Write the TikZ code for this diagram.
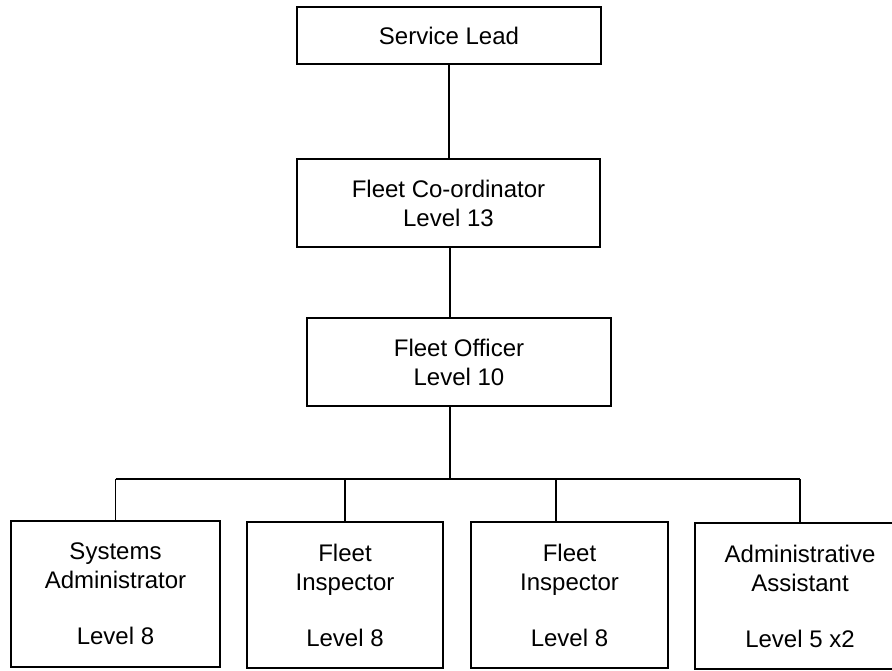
\documentclass[tikz,border=0pt]{standalone}
\usepackage{fontspec}
\setmainfont{Liberation Sans}
\begin{document}
\begin{tikzpicture}[x=1pt,y=-1pt,
  box/.style={draw=black,line width=1.8pt,rectangle,inner sep=0pt,align=center,
    font=\fontsize{24}{29}\selectfont,text=black},
  link/.style={draw=black,line width=1.8pt}]
\clip (0,0) rectangle (892,670);
\fill[white] (0,0) rectangle (892,670);
\node[box,minimum width=304pt,minimum height=57pt] (sl) at (449,35.5) {Service Lead};
\node[box,minimum width=303pt,minimum height=88pt] (fc) at (448.5,203) {Fleet Co-ordinator\\Level 13};
\node[box,minimum width=304pt,minimum height=88pt] (fo) at (459,362) {Fleet Officer\\Level 10};
\node[box,minimum width=209pt,minimum height=146pt] (b1) at (115.5,594) {Systems\\Administrator\\[27pt]Level 8};
\node[box,minimum width=196pt,minimum height=146pt] (b2) at (345,595) {Fleet\\Inspector\\[27pt]Level 8};
\node[box,minimum width=197pt,minimum height=146pt] (b3) at (569.5,595) {Fleet\\Inspector\\[27pt]Level 8};
\node[box,minimum width=210pt,minimum height=146pt] (b4) at (800,596) {Administrative\\Assistant\\[27pt]Level 5 x2};
\coordinate (bus) at (450,479);
\coordinate (d3) at (556,522);
\draw[link] (sl.south) -- (sl.south |- fc.north);
\draw[link] (fc.south -| bus) -- (fo.north -| bus);
\draw[link] (fo.south -| bus) -- (bus);
\draw[link] (b1.north |- bus) -- (b4.north |- bus);
\draw[link] (b1.north) -- (b1.north |- bus);
\draw[link] (b2.north) -- (b2.north |- bus);
\draw[link] (d3) -- (d3 |- bus);
\draw[link] (b4.north) -- (b4.north |- bus);
\end{tikzpicture}
\end{document}
